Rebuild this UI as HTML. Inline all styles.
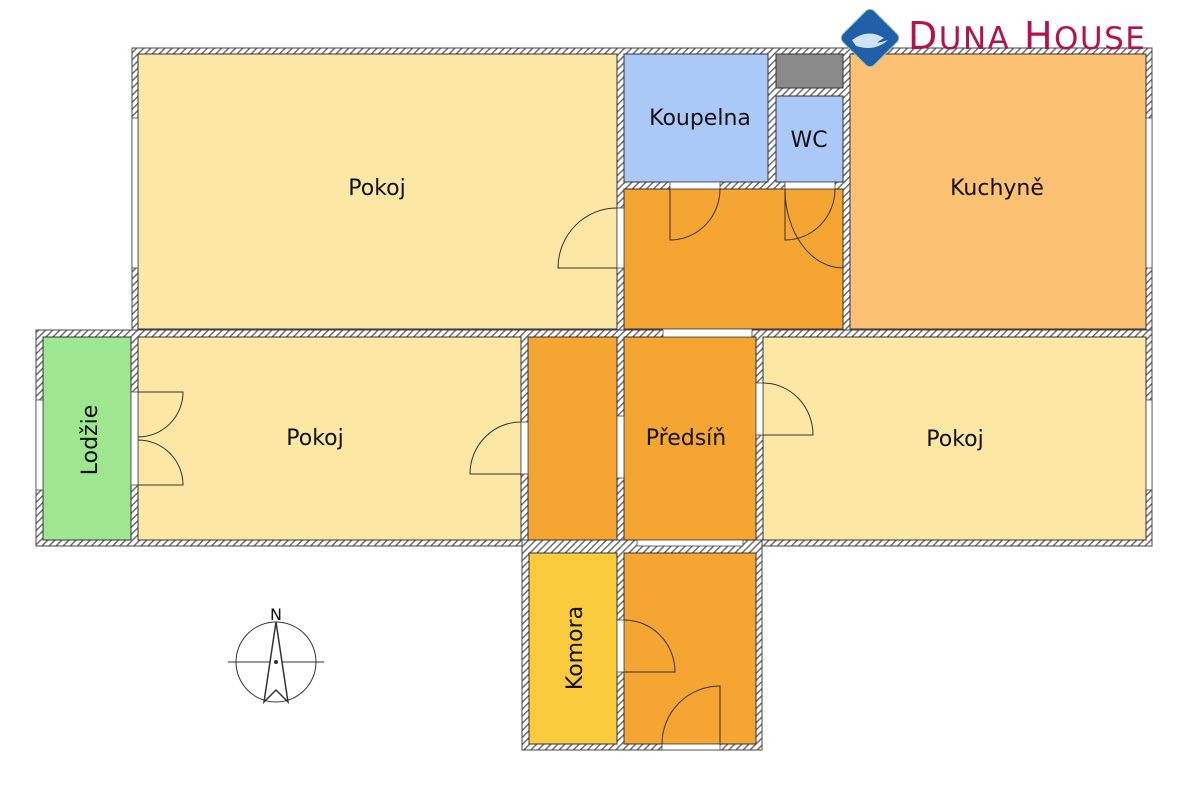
<!DOCTYPE html>
<html><head><meta charset="utf-8"><style>
html,body{margin:0;padding:0;background:#fff;width:1200px;height:807px;overflow:hidden}
svg{display:block}
text{font-family:"DejaVu Sans","Liberation Sans",sans-serif;fill:#111}
</style></head><body>
<svg width="1200" height="807" viewBox="0 0 1200 807" xmlns="http://www.w3.org/2000/svg">
<defs>
<pattern id="h" width="5" height="5" patternUnits="userSpaceOnUse" patternTransform="rotate(45)">
<rect width="5" height="5" fill="#fff"/><rect width="1.4" height="5" fill="#666"/>
</pattern>
</defs>
<g fill="url(#h)" stroke="#444" stroke-width="1">
<rect x="132" y="48" width="1020" height="287"/>
<rect x="36" y="330" width="1116" height="216"/>
<rect x="522" y="540" width="240" height="210"/>
</g>
<g stroke="#333" stroke-width="1">
<rect x="138" y="54" width="479" height="275" fill="#FCE8A4"/>
<rect x="624" y="54" width="144" height="128" fill="#AAC9F6"/>
<rect x="776" y="54" width="67" height="34" fill="#8A8A8A"/>
<rect x="776" y="96" width="67" height="86" fill="#AAC9F6"/>
<rect x="624" y="189" width="219" height="140" fill="#F5A632"/>
<rect x="850" y="54" width="296" height="275" fill="#FDC173"/>
<rect x="43" y="337" width="88" height="203" fill="#9EE68F"/>
<rect x="138" y="337" width="383" height="203" fill="#FCE8A4"/>
<rect x="528" y="337" width="89" height="203" fill="#F5A632"/>
<rect x="624" y="337" width="132" height="203" fill="#F5A632"/>
<rect x="763" y="337" width="383" height="203" fill="#FCE8A4"/>
<rect x="529" y="553" width="88" height="191" fill="#FBCB3E"/>
<rect x="624" y="553" width="132" height="191" fill="#F5A632"/>
</g>
<g fill="#fff" stroke="#444" stroke-width="0.8">
<rect x="617" y="208" width="7" height="60"/>
<rect x="617" y="416" width="7" height="62"/>
<rect x="663" y="329" width="89" height="8"/>
<rect x="637" y="540" width="106" height="6"/>
<rect x="521" y="422" width="7" height="52"/>
<rect x="756" y="383" width="7" height="52"/>
<rect x="131" y="392" width="7" height="93"/>
<rect x="617" y="620" width="7" height="52"/>
<rect x="662" y="744" width="58" height="6"/>
<rect x="670" y="182" width="50" height="7"/>
<rect x="785" y="182" width="50" height="7"/>
<rect x="132" y="118" width="6" height="150"/>
<rect x="1146" y="118" width="6" height="150"/>
<rect x="1146" y="400" width="6" height="90"/>
<rect x="36" y="400" width="7" height="90"/>
</g>
<g fill="none" stroke="#333" stroke-width="1">
<path d="M617 268 H558 A59 60 0 0 1 617 208"/>
<path d="M670 189 V240 A50 51 0 0 0 720 189"/>
<path d="M785 189 V240 A50 51 0 0 0 835 189"/>
<path d="M843 189 V268 A58 79 0 0 1 785 189"/>
<path d="M138 392 H183 A45 45 0 0 1 138 437"/>
<path d="M138 485 H183 A45 45 0 0 0 138 440"/>
<path d="M521 474 H470 A51 52 0 0 1 521 422"/>
<path d="M763 435 H813 A50 52 0 0 0 763 383"/>
<path d="M624 672 H675 A51 52 0 0 0 624 620"/>
<path d="M720 744 V686 A58 58 0 0 0 662 744"/>
</g>
<g font-size="22" text-anchor="middle">
<text x="377" y="195">Pokoj</text>
<text x="700" y="125">Koupelna</text>
<text x="809" y="147">WC</text>
<text x="997" y="195">Kuchyně</text>
<text x="315" y="445">Pokoj</text>
<text x="686" y="445">Předsíň</text>
<text x="955" y="446">Pokoj</text>
<text transform="translate(97,440) rotate(-90)">Lodžie</text>
<text transform="translate(582,648) rotate(-90)">Komora</text>
</g>
<g stroke="#333" fill="none" stroke-width="1">
<circle cx="276" cy="662" r="40"/>
<line x1="228" y1="662" x2="324" y2="662"/>
<path d="M276 622 L264 702 L276 690 L288 702 Z" fill="#fff" stroke-width="1.5"/>
<circle cx="276" cy="662" r="1.5" fill="#333"/>
</g>
<text x="276" y="620" font-size="16" text-anchor="middle">N</text>
<g transform="translate(870,38) rotate(45)">
<rect x="-22" y="-22" width="44" height="44" rx="6" fill="#1F5FA8" stroke="#9bb" stroke-width="1"/>
</g>
<path d="M852 40 Q868 28 884 38 Q870 46 888 40 Q875 52 856 46 Z" fill="#cfe3f5"/>
<text x="908" y="49" font-family="Liberation Serif,serif" font-size="38" style="fill:#B3124C;letter-spacing:1.5px">D<tspan font-size="31">UNA</tspan> H<tspan font-size="31">OUSE</tspan></text>
</svg>
</body></html>
